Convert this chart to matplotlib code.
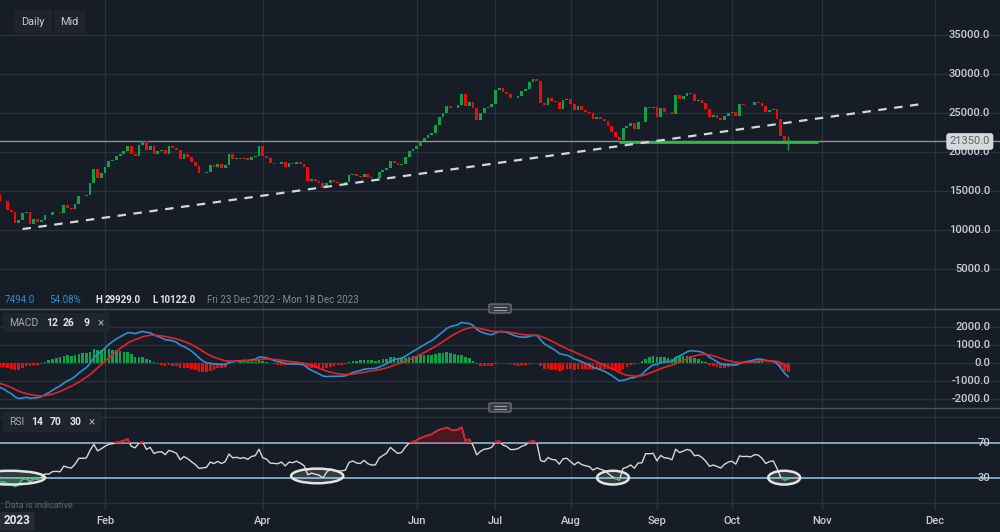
import matplotlib
matplotlib.use('Agg')
import matplotlib.pyplot as plt
from matplotlib.patches import Ellipse, Rectangle, FancyBboxPatch
from matplotlib.lines import Line2D
import numpy as np
import pandas as pd

plt.rcParams['font.family'] = ['Roboto', 'DejaVu Sans']

# ---- data (chart units) ----
holidays = ['2022-12-26', '2023-01-02', '2023-01-16', '2023-02-20', '2023-04-07',
            '2023-05-29', '2023-06-19', '2023-07-04', '2023-09-04']
dates = pd.bdate_range('2022-12-20', '2023-10-23', freq='C', holidays=holidays)

closes = [
    13780, 13757, 12535, 12315, 10910, 11271, 12182, 12318,  # Dec
    10810, 11364, 11034, 11306, 11977, 11885, 12322, 12356, 12240, 13149,
    12878, 12717, 13342, 14375, 14389, 14443, 16027, 17790, 16666, 17322,  # Jan
    18141, 18827, 18998, 19476, 19681, 20129, 20732, 19689, 19464, 20925,
    21424, 20204, 20831, 19737, 20086, 20207, 19688, 20763, 20571,  # Feb
    20277, 19090, 19779, 19381, 18771, 18200, 17292, 17344, 17448, 18326, 18045, 18413,
    18013, 18325, 19758, 19115, 19222, 19041, 19181, 18919, 19388, 19528, 20746,  # Mar
    19477, 19258, 18552, 18506, 18451, 18679, 18054, 18590, 18500, 18704,
    18431, 18059, 16299, 16508, 16255, 16067, 15375, 16019, 16431,  # Apr
    16183, 16031, 16061, 16120, 17006, 17179, 16915, 16854, 17208, 16798, 16635,
    16652, 17386, 17689, 18014, 18887, 18577, 18290, 18447, 19317, 20116, 20393,  # May
    20752, 21397, 21761, 22131, 22457, 23486, 24440, 24983, 25871, 25679, 25590,
    26054, 27445, 25946, 26461, 25660, 24105, 25021, 25624, 25750, 26177,  # Jun
    27982, 28248, 27654, 27443, 26961, 26979, 27199, 27790, 28138, 29038,
    29334, 29126, 26290, 26002, 26906, 26528, 26435, 25571, 26644, 26743,  # Jul
    26107, 25411, 25932, 25386, 25145, 24970, 24219, 24534, 24265, 23976, 23296, 22560,
    21922, 21549, 23128, 23319, 23686, 23004, 23859, 23882, 25718, 25690, 25808,  # Aug
    24501, 25649, 25192, 25149, 24850, 27358, 26748, 27130, 27604, 27439,
    26528, 26650, 26259, 25570, 24488, 24699, 24412, 24050, 24638, 25022,  # Sep
    25160, 24653, 26116, 26005, 26053, 25967, 26362, 26299, 25887, 25112,
    25392, 25485, 24268, 22011, 21199, 21350,  # Oct
]
prev_close = 14987
first_open = 14605
last_high, last_low = 22000, 20300
current_price = 21350
support_level = 21236
support_from, support_to = '2023-08-18', '2023-10-31'
trend_idx = [6, 245.5]
trend_vals = [10120, 26150]

# indicator state before the first visible candle
seed_ema12, seed_ema26, seed_signal = 16500, 17750, -1100
seed_gain, seed_loss = 250, 650

price_ticks = [5000, 10000, 15000, 20000, 25000, 30000, 35000]
macd_ticks = [2000, 1000, 0, -1000, -2000]
rsi_levels = [70, 30]
tick_dates = ['2023-02-01', '2023-04-01', '2023-06-01', '2023-07-01', '2023-08-01',
              '2023-09-01', '2023-10-01', '2023-11-01', '2023-12-01']
tick_labels = ['Feb', 'Apr', 'Jun', 'Jul', 'Aug', 'Sep', 'Oct', 'Nov', 'Dec']
rsi_marks = [(2.7, 30, 18.6, 16), (84.5, 32, 13.9, 17), (163.3, 30, 8.5, 16), (208.9, 30, 8.5, 16)]

assert len(closes) == len(dates)

# ---- indicators ----
c = np.array(closes, float)
opens = np.array([first_open] + closes[:-1], float)
x = np.arange(len(c))

macd, signal, rsi = [], [], []
e12, e26, s = seed_ema12, seed_ema26, seed_signal
g, l, prev = seed_gain, seed_loss, prev_close
for v in c:
    e12 += (v - e12) * 2 / 13
    e26 += (v - e26) * 2 / 27
    m = e12 - e26
    s += (m - s) * 2 / 10
    macd.append(m)
    signal.append(s)
    d = v - prev
    g = (g * 13 + max(d, 0)) / 14
    l = (l * 13 + max(-d, 0)) / 14
    rsi.append(100 - 100 / (1 + g / l))
    prev = v
macd = np.array(macd); signal = np.array(signal); rsi = np.array(rsi)
hist = macd - signal


def xpos(d):
    d = pd.Timestamp(d)
    if d <= dates[-1]:
        return dates.searchsorted(d)
    return len(dates) - 1 + (d - dates[-1]).days


tick_pos = [xpos(d) for d in tick_dates]

# ---- styling ----
BG = '#161d26'
GRID = '#29313b'
TXT = '#c9cdd2'
UP = '#0ea14a'
DOWN = '#f00a0a'
W, H = 1000, 532

fig = plt.figure(figsize=(W / 100, H / 100), dpi=100, facecolor=BG)


def rect(top, bottom):
    return [0, 1 - bottom / H, 1, (bottom - top) / H]


ax_p = fig.add_axes(rect(0, 308))
ax_m = fig.add_axes(rect(309, 407))
ax_r = fig.add_axes(rect(408, 510))

x_left, x_right = 0.0, 266.4
for ax in (ax_p, ax_m, ax_r):
    ax.set_facecolor(BG)
    ax.set_xlim(x_left, x_right)
    for sp in ax.spines.values():
        sp.set_visible(False)
    ax.set_yticks([])
    ax.tick_params(axis='x', length=0)
    for p in tick_pos:
        ax.axvline(p, color=GRID, lw=1, zorder=0)
ax_p.set_xticks([])
ax_m.set_xticks([])

# price panel
ax_p.set_ylim(0, 39490)
for t in price_ticks:
    ax_p.axhline(t, color=GRID, lw=1, zorder=0)
    ax_p.text(0.990, t, '%.1f' % t, transform=ax_p.get_yaxis_transform(),
              ha='right', va='center', color=TXT, fontsize=8, fontweight='medium')
cols = [UP if cl >= op else DOWN for op, cl in zip(opens, c)]
ax_p.bar(x, c - opens, bottom=opens, width=0.74, color=cols, zorder=3)
ax_p.vlines(x[-1], last_low, last_high, color=UP, lw=1, zorder=3)
ax_p.axhline(current_price, color='#8d949b', lw=1, zorder=2)
ax_p.plot([xpos(support_from), xpos(support_to)], [support_level] * 2,
          color='#22c03c', lw=2, zorder=4, solid_capstyle='butt')
ax_p.plot(trend_idx, trend_vals, color='#d4d7da', lw=1.6, dashes=(3.8, 3.4), zorder=4)
ax_p.text(0.990, current_price, '%.1f' % current_price, transform=ax_p.get_yaxis_transform(),
          ha='right', va='center', color='#5b6067', fontsize=8, zorder=6,
          bbox=dict(boxstyle='round,pad=0.3,rounding_size=0.25', fc='#d6d9dc', ec='none'))

# MACD panel
ax_m.set_ylim(-2461, 2983)
for t in macd_ticks:
    ax_m.axhline(t, color=GRID, lw=1, zorder=0)
    ax_m.text(0.990, t, '%.1f' % t, transform=ax_m.get_yaxis_transform(),
              ha='right', va='center', color=TXT, fontsize=8, fontweight='medium')
ax_m.bar(x, hist, width=0.7, color=[UP if h >= 0 else DOWN for h in hist], zorder=2)
ax_m.plot(x, macd, color='#2f8fd0', lw=1.2, zorder=3)
ax_m.plot(x, signal, color='#e0242c', lw=1.2, zorder=3)

# RSI panel
ax_r.set_ylim(-7.6, 111)
for t in (0, 100):
    ax_r.axhline(t, color=GRID, lw=1, zorder=0)
for t in rsi_levels:
    ax_r.axhline(t, color='#93b9d8', lw=1.2, zorder=1)
    ax_r.text(0.990, t, str(t), transform=ax_r.get_yaxis_transform(),
              ha='right', va='center', color=TXT, fontsize=8, fontweight='medium', zorder=5)
ax_r.fill_between(x, 70, rsi, where=rsi > 70, interpolate=True, color='#b0101a', alpha=0.35, lw=0)
ax_r.fill_between(x, 30, rsi, where=rsi < 30, interpolate=True, color='#12a04a', alpha=0.35, lw=0)
ax_r.plot(x, rsi, color='#d6d6d6', lw=1, zorder=3)
hi, = ax_r.plot(x, rsi, color='#e0141c', lw=1.2, zorder=4)
hi.set_clip_path(Rectangle((x_left, 70), x_right - x_left, 50, transform=ax_r.transData))
lo, = ax_r.plot(x, rsi, color='#18b04e', lw=1.2, zorder=4)
lo.set_clip_path(Rectangle((x_left, -10), x_right - x_left, 40, transform=ax_r.transData))
for cx, cy, ew, eh in rsi_marks:
    ax_r.add_patch(Ellipse((cx, cy), ew, eh, fc=(1, 1, 1, 0.13), ec='#e4e4e4', lw=1.8, zorder=5))

ax_r.set_xticks(tick_pos)
ax_r.set_xticklabels(tick_labels)
ax_r.tick_params(axis='x', length=0, pad=4, labelsize=8, labelcolor=TXT)
for lab in ax_r.get_xticklabels():
    lab.set_fontweight('medium')

# ---- chrome ----
def ui_box(x0, y0, x1, y1, fc, ec='none'):
    fig.patches.append(FancyBboxPatch((x0 / W, 1 - y1 / H), (x1 - x0) / W, (y1 - y0) / H,
                                      boxstyle='round,pad=0,rounding_size=0.002',
                                      transform=fig.transFigure, fc=fc, ec=ec, lw=1, zorder=5))


def ui_text(px, py, s, color=TXT, size=7.5, weight='normal', ha='left'):
    fig.text(px / W, 1 - py / H, s, color=color, fontsize=size, fontweight=weight,
             ha=ha, va='center', zorder=6)


for yy in (308.5, 407.5):
    fig.add_artist(Line2D([0, 1], [1 - yy / H] * 2, color='#4a525b', lw=1, zorder=4))
    ui_box(489, yy - 4.5, 511, yy + 4.5, '#383c42', '#6a6f75')
    for dy in (-1.2, 1.2):
        fig.add_artist(Line2D([494 / W, 506 / W], [1 - (yy + dy) / H] * 2, color='#9ca0a5', lw=0.8, zorder=6))

ui_box(14, 10, 52, 33, '#1f242a')
ui_box(54, 10, 85, 33, '#1f242a')
ui_text(33, 22, 'Daily', ha='center', size=7.8)
ui_text(69.5, 22, 'Mid', ha='center', size=7.8)

ui_text(5, 300, '7494.0', color='#2f8fd0', size=7)
ui_text(49, 300, '54.08%', color='#2f8fd0', size=7)
ui_text(95, 300, 'H', color='#e2e5e8', size=7, weight='bold')
ui_text(105, 300, '29929.0', color='#e2e5e8', size=7, weight='bold')
ui_text(152, 300, 'L', color='#e2e5e8', size=7, weight='bold')
ui_text(159, 300, '10122.0', color='#e2e5e8', size=7, weight='bold')
ui_text(207, 300, 'Fri 23 Dec 2022 - Mon 18 Dec 2023', color='#838a92', size=7)

ui_box(3, 313, 110, 332, '#1f252c')
ui_text(9, 322.5, 'MACD', color='#a4aab0', size=7.5)
ui_text(46, 322.5, '12', color='#e2e5e8', size=7.5, weight='bold')
ui_text(63, 322.5, '26', color='#e2e5e8', size=7.5, weight='bold')
ui_text(83, 322.5, '9', color='#e2e5e8', size=7.5, weight='bold')
ui_text(97, 322.5, '\u00d7', color='#a4aab0', size=8.5)

ui_box(3, 412, 102, 432, '#1f252c')
ui_text(9, 422, 'RSI', color='#a4aab0', size=7.5)
ui_text(31, 422, '14', color='#e2e5e8', size=7.5, weight='bold')
ui_text(50, 422, '70', color='#e2e5e8', size=7.5, weight='bold')
ui_text(70, 422, '30', color='#e2e5e8', size=7.5, weight='bold')
ui_text(88, 422, '\u00d7', color='#a4aab0', size=8.5)

ui_text(5, 506, 'Data is indicative', color='#5c6670', size=6.5)
ui_box(0, 512, 35, 531, '#262b32')
ui_text(17, 521, '2023', color='#e6e8ea', size=8.5, weight='bold', ha='center')

fig.savefig('out.png', dpi=100, facecolor=BG)
